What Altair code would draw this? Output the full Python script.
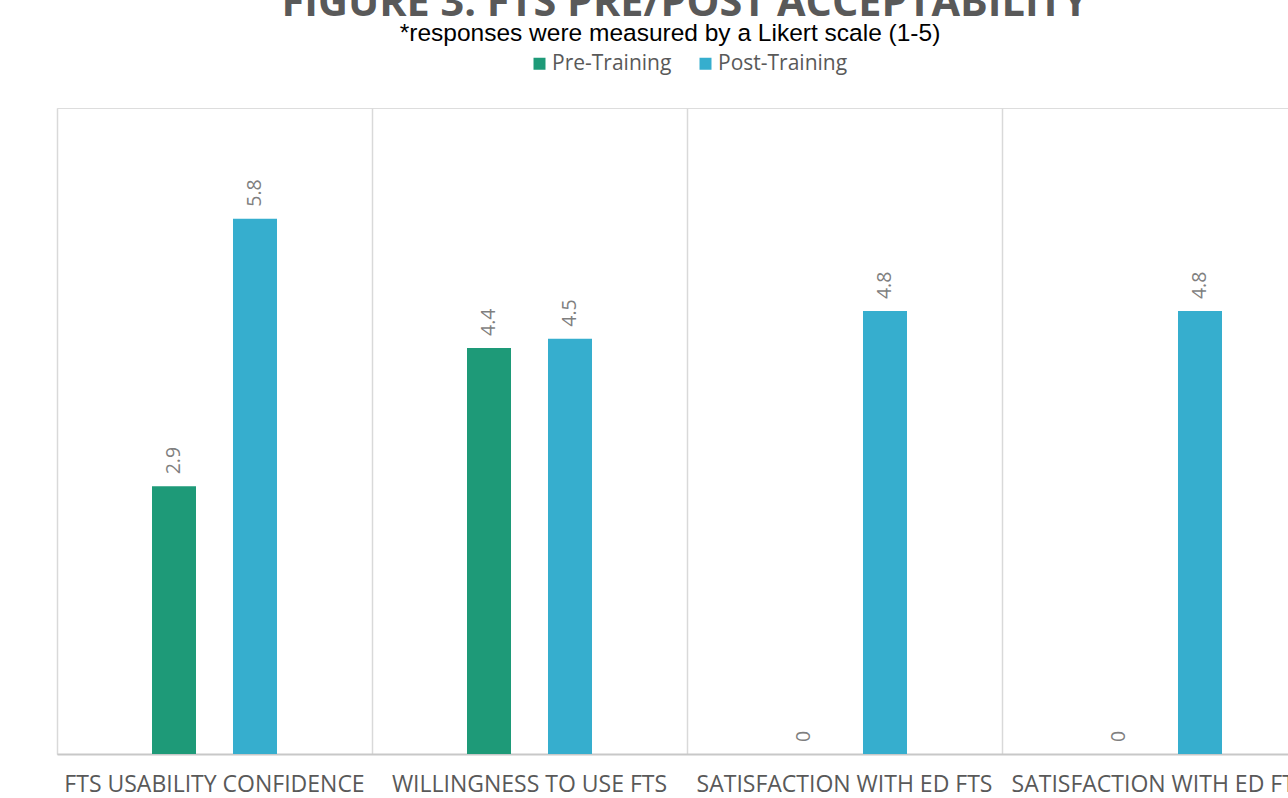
import json
import altair as alt
import pandas as pd

categories = ["FTS USABILITY CONFIDENCE", "WILLINGNESS TO USE FTS",
              "SATISFACTION WITH ED FTS", "SATISFACTION WITH ED FTS"]
series = ["Pre-Training", "Post-Training"]
pre_values = [2.9, 4.4, 0, 0]
post_values = [5.8, 4.5, 4.8, 4.8]
colors = ["#1E9A78", "#36AECE"]

title_text = "FIGURE 3: FTS PRE/POST ACCEPTABILITY"
subtitle_text = "*responses were measured by a Likert scale (1-5)"

rows = []
for i, c in enumerate(categories):
    rows.append({"idx": i, "series": series[0], "value": pre_values[i]})
    rows.append({"idx": i, "series": series[1], "value": post_values[i]})
df = pd.DataFrame(rows)

label_expr = json.dumps(categories) + "[datum.value]"

# The plot runs past the right edge of the picture (cropped like the original)
x = alt.X("idx:O", title=None,
          scale=alt.Scale(paddingInner=0, paddingOuter=0, range=[0, 1260]),
          axis=alt.Axis(labelExpr=label_expr, labelAngle=0, labelFont="Open Sans",
                        labelFontSize=23, labelColor="#595959", labelPadding=19,
                        labelLimit=0, ticks=False, domainColor="#c8c8c8", domainWidth=2,
                        grid=True, gridColor="#d9d9d9", gridWidth=1.5,
                        bandPosition=0, labelOverlap=False))
y = alt.Y("value:Q", title=None, scale=alt.Scale(domain=[0, 7], nice=False),
          axis=None)
xoff = alt.XOffset("series:N", sort=series,
                   scale=alt.Scale(paddingInner=0.111, paddingOuter=1))

bars = alt.Chart(df).mark_bar(width=44).encode(
    x=x, y=y, xOffset=xoff,
    color=alt.Color("series:N", sort=series,
                    scale=alt.Scale(domain=series, range=colors),
                    legend=alt.Legend(title=None, orient="none", direction="horizontal",
                                      legendX=472, legendY=-55, symbolType="square",
                                      symbolSize=144, symbolStrokeWidth=0,
                                      labelFont="Open Sans", labelFontSize=21,
                                      labelColor="#595959", columnPadding=23,
                                      symbolOffset=0, labelOffset=2)),
)

labels = alt.Chart(df).mark_text(angle=270, align="left", baseline="middle", dx=12,
                                 font="Open Sans", fontSize=19.5, color="#7f7f7f").encode(
    x=x, y=y, xOffset=xoff,
    text=alt.Text("value:Q", format="~g"),
)

title_df = pd.DataFrame({"t": [title_text]})
sub_df = pd.DataFrame({"t": [subtitle_text]})

title = alt.Chart(title_df).mark_text(font="Open Sans", fontSize=41.4, fontWeight="bold",
                                      color="#595959", align="center",
                                      baseline="alphabetic").encode(
    x=alt.value(628), y=alt.value(-92), text="t:N")
subtitle = alt.Chart(sub_df).mark_text(font="Liberation Sans", fontSize=24.5,
                                       color="#000000", align="center",
                                       baseline="alphabetic").encode(
    x=alt.value(613), y=alt.value(-67), text="t:N")

chart = alt.layer(bars, labels, title, subtitle).properties(
    width=1231, height=646,
    autosize=alt.AutoSizeParams(type="none"),
    padding={"left": 57, "top": 108, "right": 0, "bottom": 44},
).configure_view(stroke=None).configure(background="white")

chart.save("out.html", embed_options={"renderer": "svg", "actions": False})
